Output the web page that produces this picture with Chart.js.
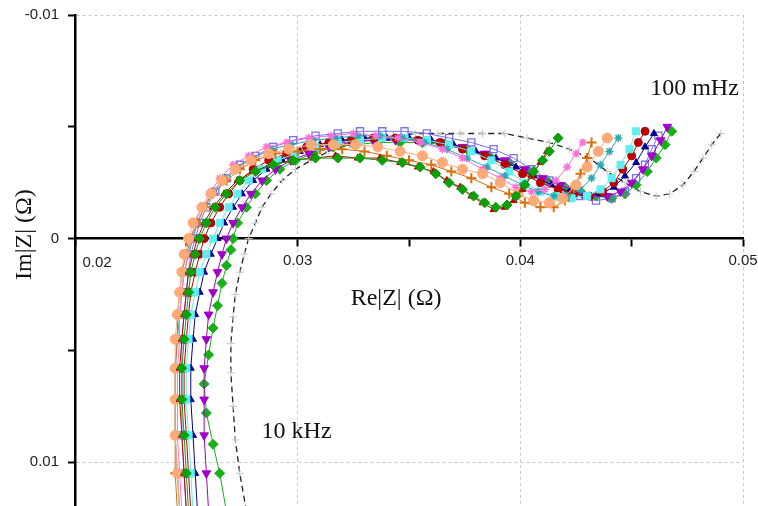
<!DOCTYPE html>
<html>
<head>
<meta charset="utf-8">
<script src="https://cdn.jsdelivr.net/npm/chart.js@4.4.1/dist/chart.umd.min.js"></script>
<style>
html,body{margin:0;padding:0;background:#fff;}
#wrap{width:758px;height:506px;position:relative;}
</style>
</head>
<body>
<div id="wrap"><canvas id="c" width="758" height="506"></canvas></div>
<script>
// ---- tick labels ----
const xTickLabels = [0.02, 0.03, 0.04, 0.05];
const yTickLabels = [-0.01, 0, 0.01];
const xTitle = 'Re|Z| (Ω)';
const yTitle = 'Im|Z| (Ω)';
const annotations = [
  { text: '100 mHz', x: 0.04782, y: -0.0067 },
  { text: '10 kHz', x: 0.02995, y: 0.00865 }
];

// ---- series: [Re, Im] pairs, from 10 kHz (bottom) to 100 mHz ----
const greenLow = [[0.0251,0.0122],[0.0250,0.0105],[0.0249,0.0088],[0.0248,0.0072],[0.0248,0.0058],[0.0249,0.0045],[0.0250,0.0034],[0.0251,0.0024],[0.0252,0.0015],[0.0254,0.0007],[0.0256,0.0],[0.0259,-0.0007],[0.0263,-0.0014],[0.0268,-0.002],[0.0274,-0.0026],[0.0281,-0.003],[0.0289,-0.0033],[0.0298,-0.0035],[0.0308,-0.0036],[0.0318,-0.0036],[0.0328,-0.0036],[0.0338,-0.0035],[0.0347,-0.0034],[0.0355,-0.0032],[0.0362,-0.0029],[0.0368,-0.0025],[0.0374,-0.0022],[0.0379,-0.0019],[0.0384,-0.0016],[0.0389,-0.0014],[0.0394,-0.0015],[0.0398,-0.0019],[0.0402,-0.0024],[0.0406,-0.003],[0.0410,-0.0035],[0.0413,-0.0039],[0.0417,-0.0045]];
const redLow = [[0.0250,0.0122],[0.0249,0.0105],[0.0248,0.0088],[0.0247,0.0072],[0.0247,0.0058],[0.0248,0.0045],[0.0249,0.0034],[0.0250,0.0024],[0.0251,0.0015],[0.0253,0.0007],[0.0255,0.0],[0.0258,-0.0007],[0.0262,-0.0014],[0.0267,-0.002],[0.0273,-0.0026],[0.0280,-0.003],[0.0288,-0.0033],[0.0297,-0.0035],[0.0307,-0.0036],[0.0317,-0.0037],[0.0327,-0.0036],[0.0337,-0.0036],[0.0346,-0.0034],[0.0354,-0.0032],[0.0361,-0.003],[0.0367,-0.0026],[0.0373,-0.0023],[0.0378,-0.0019],[0.0383,-0.0016],[0.0388,-0.0013],[0.0393,-0.0014],[0.0397,-0.0017],[0.0401,-0.0022],[0.0405,-0.0028],[0.0409,-0.0034],[0.0412,-0.0039]];
const peachCircles = [[0.0247,0.0122],[0.0246,0.0105],[0.0245,0.0088],[0.0245,0.0072],[0.0245,0.0058],[0.0245,0.0045],[0.0246,0.0034],[0.0247,0.0024],[0.0248,0.0015],[0.0249,0.0007],[0.0251,0.0],[0.0253,-0.0007],[0.0257,-0.0014],[0.0261,-0.002],[0.0266,-0.0026],[0.0272,-0.0031],[0.0279,-0.0035],[0.0287,-0.0038],[0.0296,-0.004],[0.0306,-0.0042],[0.0316,-0.0042],[0.0326,-0.0042],[0.0336,-0.0041],[0.0346,-0.0039],[0.0356,-0.0037],[0.0365,-0.0034],[0.0374,-0.0031],[0.0383,-0.0029],[0.0391,-0.0025],[0.0399,-0.002],[0.0406,-0.0017],[0.0413,-0.0016],[0.0419,-0.0018],[0.0425,-0.0024],[0.0430,-0.0032],[0.0435,-0.0039],[0.0439,-0.0045]];
const orangePlus = [[0.0246,0.0122],[0.0245,0.0105],[0.0245,0.0088],[0.0245,0.0072],[0.0245,0.0058],[0.0246,0.0045],[0.0246,0.0034],[0.0247,0.0024],[0.0248,0.0015],[0.0250,0.0007],[0.0252,0.0],[0.0255,-0.0007],[0.0258,-0.0014],[0.0262,-0.002],[0.0268,-0.0026],[0.0274,-0.0031],[0.0281,-0.0035],[0.0290,-0.0038],[0.0300,-0.0039],[0.0310,-0.004],[0.0320,-0.004],[0.0330,-0.0039],[0.0340,-0.0037],[0.0350,-0.0035],[0.0360,-0.0033],[0.0369,-0.003],[0.0378,-0.0027],[0.0387,-0.0023],[0.0395,-0.002],[0.0402,-0.0016],[0.0409,-0.0014],[0.0415,-0.0014],[0.0420,-0.0017],[0.0424,-0.0023],[0.0427,-0.0029],[0.0430,-0.0036],[0.0432,-0.0043]];
const pinkStars = [[0.0248,0.0122],[0.0247,0.0105],[0.0246,0.0088],[0.0246,0.0072],[0.0246,0.0058],[0.0247,0.0045],[0.0247,0.0034],[0.0248,0.0024],[0.0249,0.0015],[0.0251,0.0007],[0.0252,0.0],[0.0254,-0.0007],[0.0257,-0.0014],[0.0261,-0.0021],[0.0265,-0.0027],[0.0271,-0.0033],[0.0278,-0.0037],[0.0286,-0.0041],[0.0295,-0.0043],[0.0305,-0.0045],[0.0315,-0.0046],[0.0325,-0.0047],[0.0335,-0.0046],[0.0345,-0.0045],[0.0355,-0.0043],[0.0365,-0.004],[0.0374,-0.0036],[0.0383,-0.0031],[0.0391,-0.0027],[0.0398,-0.0023],[0.0405,-0.0021],[0.0411,-0.0022],[0.0416,-0.0026],[0.0421,-0.0032],[0.0425,-0.0038],[0.0428,-0.0043]];
const tealStars = [[0.0247,0.0122],[0.0246,0.0105],[0.0245,0.0088],[0.0245,0.0072],[0.0245,0.0058],[0.0246,0.0045],[0.0247,0.0034],[0.0248,0.0024],[0.0249,0.0015],[0.0251,0.0007],[0.0253,0.0],[0.0255,-0.0007],[0.0258,-0.0014],[0.0262,-0.0021],[0.0267,-0.0027],[0.0273,-0.0032],[0.0280,-0.0036],[0.0288,-0.004],[0.0297,-0.0042],[0.0307,-0.0044],[0.0317,-0.0045],[0.0327,-0.0046],[0.0337,-0.0046],[0.0347,-0.0045],[0.0357,-0.0043],[0.0367,-0.004],[0.0376,-0.0036],[0.0385,-0.0032],[0.0393,-0.0028],[0.0401,-0.0024],[0.0408,-0.0021],[0.0415,-0.0019],[0.0421,-0.0019],[0.0427,-0.0022],[0.0432,-0.0027],[0.0436,-0.0033],[0.0440,-0.0039],[0.0444,-0.0045]];
const cyanSquares = [[0.0253,0.0122],[0.0252,0.0105],[0.0251,0.0088],[0.0250,0.0072],[0.0250,0.0058],[0.0251,0.0045],[0.0252,0.0034],[0.0254,0.0024],[0.0256,0.0015],[0.0259,0.0007],[0.0262,0.0],[0.0265,-0.0007],[0.0269,-0.0014],[0.0273,-0.002],[0.0278,-0.0026],[0.0284,-0.0031],[0.0291,-0.0035],[0.0299,-0.0038],[0.0308,-0.0041],[0.0318,-0.0043],[0.0328,-0.0044],[0.0338,-0.0045],[0.0348,-0.0045],[0.0358,-0.0044],[0.0368,-0.0042],[0.0378,-0.0039],[0.0387,-0.0035],[0.0395,-0.003],[0.0402,-0.0025],[0.0409,-0.0021],[0.0416,-0.0019],[0.0423,-0.0018],[0.0430,-0.0019],[0.0436,-0.0022],[0.0441,-0.0027],[0.0445,-0.0033],[0.0449,-0.004],[0.0452,-0.0048]];
const purpleOpenSquares = [[0.0250,0.0122],[0.0249,0.0105],[0.0248,0.0088],[0.0248,0.0072],[0.0248,0.0058],[0.0248,0.0045],[0.0249,0.0034],[0.0250,0.0024],[0.0251,0.0015],[0.0252,0.0007],[0.0254,0.0],[0.0256,-0.0007],[0.0259,-0.0014],[0.0263,-0.0021],[0.0268,-0.0027],[0.0274,-0.0033],[0.0281,-0.0037],[0.0289,-0.0041],[0.0298,-0.0044],[0.0308,-0.0046],[0.0318,-0.0047],[0.0328,-0.0048],[0.0338,-0.0048],[0.0348,-0.0048],[0.0358,-0.0047],[0.0368,-0.0045],[0.0378,-0.0043],[0.0388,-0.004],[0.0397,-0.0036],[0.0405,-0.0031],[0.0413,-0.0026],[0.0420,-0.0022],[0.0427,-0.0019],[0.0434,-0.0017],[0.0441,-0.0018],[0.0447,-0.0021],[0.0452,-0.0027],[0.0456,-0.0033],[0.0459,-0.004],[0.0462,-0.0046]];
const magentaTriangles = [[0.0260,0.0122],[0.0259,0.0105],[0.0258,0.0088],[0.0258,0.0072],[0.0258,0.0058],[0.0259,0.0045],[0.0260,0.0034],[0.0262,0.0024],[0.0264,0.0015],[0.0266,0.0007],[0.0268,0.0],[0.0271,-0.0007],[0.0275,-0.0014],[0.0279,-0.002],[0.0284,-0.0026],[0.0290,-0.0031],[0.0297,-0.0035],[0.0305,-0.0038],[0.0314,-0.0041],[0.0324,-0.0043],[0.0334,-0.0044],[0.0344,-0.0044],[0.0354,-0.0044],[0.0364,-0.0043],[0.0374,-0.0041],[0.0384,-0.0038],[0.0393,-0.0035],[0.0402,-0.0031],[0.0410,-0.0027],[0.0418,-0.0024],[0.0425,-0.0021],[0.0432,-0.0019],[0.0439,-0.0019],[0.0445,-0.0021],[0.0450,-0.0025],[0.0455,-0.0031],[0.0459,-0.0037],[0.0463,-0.0044],[0.0466,-0.005]];
const navyTriangles = [[0.0255,0.0122],[0.0254,0.0105],[0.0253,0.0088],[0.0252,0.0072],[0.0252,0.0058],[0.0253,0.0045],[0.0254,0.0034],[0.0256,0.0024],[0.0258,0.0015],[0.0261,0.0007],[0.0264,0.0],[0.0267,-0.0007],[0.0271,-0.0014],[0.0275,-0.002],[0.0280,-0.0026],[0.0286,-0.0031],[0.0293,-0.0035],[0.0301,-0.0039],[0.0310,-0.0042],[0.0320,-0.0044],[0.0330,-0.0045],[0.0340,-0.0045],[0.0350,-0.0045],[0.0360,-0.0044],[0.0370,-0.0042],[0.0380,-0.0039],[0.0389,-0.0036],[0.0398,-0.0032],[0.0406,-0.0028],[0.0414,-0.0024],[0.0422,-0.0021],[0.0429,-0.0019],[0.0436,-0.002],[0.0442,-0.0023],[0.0447,-0.0028],[0.0452,-0.0034],[0.0456,-0.0041],[0.0460,-0.0047]];
const redCircles = [[0.0252,0.0122],[0.0251,0.0105],[0.0250,0.0088],[0.0249,0.0072],[0.0249,0.0058],[0.0250,0.0045],[0.0251,0.0034],[0.0252,0.0024],[0.0254,0.0015],[0.0256,0.0007],[0.0258,0.0],[0.0261,-0.0007],[0.0265,-0.0014],[0.0269,-0.002],[0.0274,-0.0026],[0.0280,-0.0031],[0.0287,-0.0035],[0.0295,-0.0038],[0.0304,-0.0041],[0.0314,-0.0043],[0.0324,-0.0044],[0.0334,-0.0045],[0.0344,-0.0045],[0.0354,-0.0044],[0.0364,-0.0043],[0.0374,-0.004],[0.0384,-0.0037],[0.0393,-0.0033],[0.0401,-0.0029],[0.0409,-0.0025],[0.0417,-0.0022],[0.0424,-0.002],[0.0431,-0.0019],[0.0437,-0.0021],[0.0442,-0.0025],[0.0446,-0.0031],[0.0450,-0.0037],[0.0453,-0.0043],[0.0456,-0.0048]];
const greenRight = [[0.0268,0.0122],[0.0265,0.0105],[0.0262,0.0092],[0.0259,0.0078],[0.0258,0.0065],[0.0260,0.0052],[0.0262,0.004],[0.0264,0.003],[0.0266,0.002],[0.0268,0.0012],[0.0270,0.0005],[0.0271,0.0],[0.0273,-0.0007],[0.0277,-0.0014],[0.0281,-0.002],[0.0286,-0.0026],[0.0292,-0.0031],[0.0299,-0.0035],[0.0307,-0.0038],[0.0316,-0.0041],[0.0326,-0.0042],[0.0336,-0.0043],[0.0346,-0.0043],[0.0356,-0.0043],[0.0366,-0.0042],[0.0376,-0.004],[0.0386,-0.0037],[0.0395,-0.0034],[0.0404,-0.003],[0.0412,-0.0026],[0.0420,-0.0023],[0.0427,-0.0021],[0.0434,-0.0019],[0.0441,-0.0018],[0.0447,-0.002],[0.0452,-0.0024],[0.0457,-0.003],[0.0461,-0.0036],[0.0465,-0.0042],[0.0468,-0.0048]];
const blackDashed = [[0.0277,0.0122],[0.0274,0.0105],[0.0272,0.009],[0.0271,0.0075],[0.0270,0.006],[0.0270,0.0047],[0.0271,0.0035],[0.0272,0.0025],[0.0274,0.0015],[0.0276,0.0007],[0.0278,0.0],[0.0281,-0.0007],[0.0284,-0.0014],[0.0288,-0.002],[0.0293,-0.0026],[0.0299,-0.0031],[0.0306,-0.0035],[0.0314,-0.0039],[0.0323,-0.0042],[0.0333,-0.0044],[0.0343,-0.0046],[0.0353,-0.0047],[0.0363,-0.0047],[0.0373,-0.0047],[0.0383,-0.0047],[0.0393,-0.0047],[0.0403,-0.0045],[0.0413,-0.0043],[0.0422,-0.004],[0.0431,-0.0036],[0.0439,-0.003],[0.0447,-0.0025],[0.0454,-0.0021],[0.0461,-0.0019],[0.0467,-0.002],[0.0473,-0.0024],[0.0478,-0.003],[0.0482,-0.0036],[0.0486,-0.0042],[0.0490,-0.0047]];

const toXY = arr => arr.map(p => ({x: p[0], y: p[1]}));
function ds(data, color, style, opts) {
  return Object.assign({
    data: toXY(data), showLine: true, borderColor: color, backgroundColor: color,
    borderWidth: 1, pointStyle: style, pointRadius: 4, pointBorderColor: color,
    pointBackgroundColor: color, pointBorderWidth: 1
  }, opts || {});
}

const datasets = [
  ds(greenLow, '#0aa00a', 'rectRot', {pointRadius: 5}),
  ds(redLow, '#c00000', 'triangle'),
  ds(peachCircles, '#ffaa78', 'circle', {pointRadius: 5}),
  ds(orangePlus, '#d8700c', 'cross', {pointBorderWidth: 2, pointRadius: 5}),
  ds(pinkStars, '#ff70d8', 'star', {pointBorderWidth: 1.5}),
  ds(tealStars, '#28a8b0', 'star', {pointBorderWidth: 1.5}),
  ds(cyanSquares, '#62eef0', 'rect', {pointRadius: 5}),
  ds(redCircles, '#b80000', 'circle'),
  ds(navyTriangles, '#000090', 'triangle'),
  ds(magentaTriangles, '#a000c8', 'triangle', {pointRotation: 180, pointRadius: 5}),
  ds(purpleOpenSquares, '#7a70f0', 'rect', {pointBackgroundColor: 'rgba(255,255,255,0)', pointRadius: 5, pointBorderWidth: 1.3}),
  ds(greenRight, '#18b018', 'rectRot', {pointRadius: 5}),
  ds(blackDashed, '#222222', 'cross', {borderDash: [6, 4], borderWidth: 1.3, pointBorderColor: '#c8c8c8', pointBackgroundColor: '#c8c8c8', pointRadius: 4})
];

const textPlugin = {
  id: 'texts',
  afterDraw(chart) {
    const {ctx, scales: {x, y}, chartArea} = chart;
    ctx.save();
    // first x label sits to the right of the y axis
    ctx.font = '15px "Liberation Sans", Arial, sans-serif';
    ctx.fillStyle = '#222';
    ctx.textAlign = 'center';
    ctx.textBaseline = 'middle';
    ctx.fillText(String(xTickLabels[0]), x.getPixelForValue(xTickLabels[0]) + 22, y.getPixelForValue(0) + 24);
    // titles and annotations
    ctx.font = '24px "Liberation Serif", "Times New Roman", serif';
    ctx.fillStyle = '#111';
    ctx.fillText(xTitle, x.getPixelForValue(0.03442), y.getPixelForValue(0.0027));
    ctx.save();
    ctx.translate(chartArea.left - 50, y.getPixelForValue(0) - 4);
    ctx.rotate(-Math.PI / 2);
    ctx.fillText(yTitle, 0, 0);
    ctx.restore();
    for (const a of annotations) {
      ctx.fillText(a.text, x.getPixelForValue(a.x), y.getPixelForValue(a.y));
    }
    ctx.restore();
  }
};

new Chart(document.getElementById('c'), {
  type: 'scatter',
  data: { datasets },
  plugins: [textPlugin],
  options: {
    responsive: false,
    animation: false,
    devicePixelRatio: 1,
    layout: { autoPadding: false, padding: { top: 15, right: 15, bottom: 0, left: 0 } },
    plugins: { legend: { display: false }, tooltip: { enabled: false } },
    elements: { line: { tension: 0 } },
    scales: {
      x: {
        type: 'linear',
        min: 0.02, max: 0.05,
        position: { y: 0 },
        afterFit: s => { s.paddingLeft = 0; s.paddingRight = 0; s.paddingTop = 0; s.paddingBottom = 0; },
        grid: {
          color: ctx => (ctx.tick && xTickLabels.some(v => Math.abs(v - ctx.tick.value) < 1e-9) && ctx.tick.value > 0.021) ? '#c8c8c8' : 'rgba(0,0,0,0)',
          lineWidth: 1,
          drawTicks: true,
          tickLength: 7,
          tickColor: '#000',
          tickWidth: 2
        },
        border: { display: true, color: '#000', width: 2.5, dash: [3, 3] },
        ticks: {
          stepSize: 0.005,
          includeBounds: false,
          maxRotation: 0,
          autoSkip: false,
          padding: 6,
          color: '#222',
          font: { family: '"Liberation Sans", Arial, sans-serif', size: 15 },
          callback: v => (xTickLabels.some(t => Math.abs(t - v) < 1e-9) && v > 0.021) ? String(xTickLabels.find(t => Math.abs(t - v) < 1e-9)) : ''
        }
      },
      y: {
        type: 'linear',
        min: -0.01, max: 0.01196,
        reverse: true,
        position: 'left',
        afterFit: s => { s.width = 75; s.paddingTop = 0; s.paddingBottom = 0; },
        grid: {
          color: ctx => (ctx.tick && Math.abs(Math.abs(ctx.tick.value) - 0.01) < 1e-9) ? '#c8c8c8' : 'rgba(0,0,0,0)',
          lineWidth: 1,
          drawTicks: true,
          tickLength: 7,
          tickColor: '#000',
          tickWidth: 2
        },
        border: { display: true, color: '#000', width: 2.5, dash: [3, 3] },
        ticks: {
          stepSize: 0.005,
          includeBounds: false,
          autoSkip: false,
          padding: 9,
          color: '#222',
          font: { family: '"Liberation Sans", Arial, sans-serif', size: 15 },
          callback: v => { const t = yTickLabels.find(t => Math.abs(t - v) < 1e-9); return t === undefined ? '' : String(t); }
        }
      }
    }
  }
});
</script>
</body>
</html>
